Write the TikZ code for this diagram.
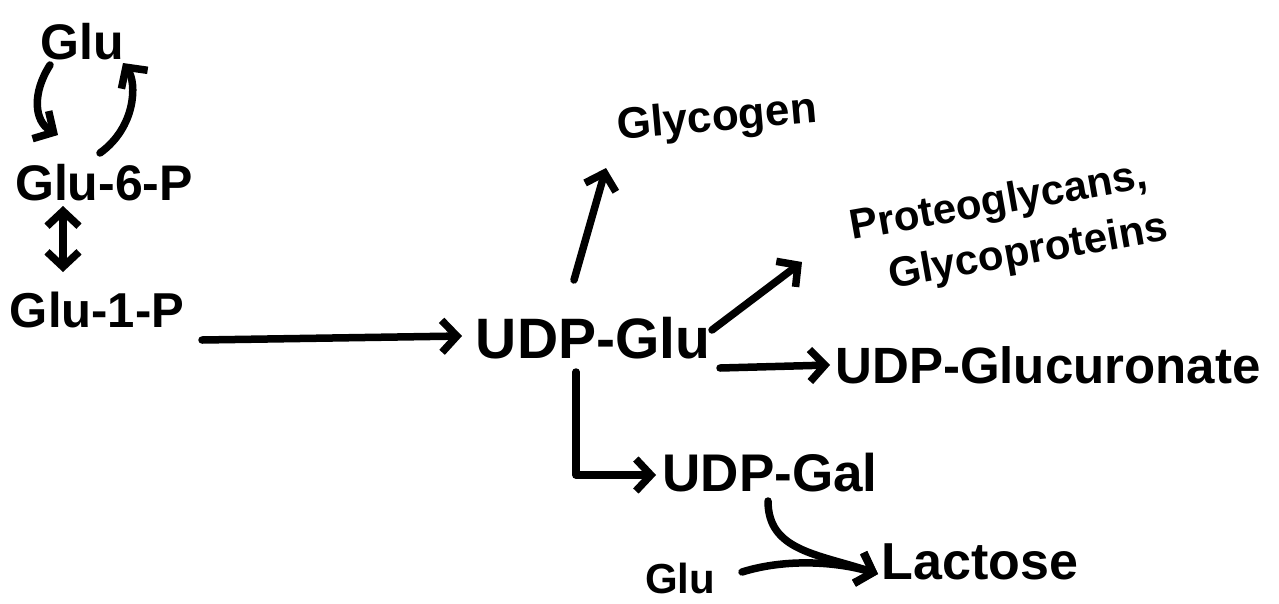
\documentclass[tikz,border=0pt]{standalone}
\usepackage{fontspec}
\setmainfont{Liberation Sans}
\usetikzlibrary{arrows.meta,calc}
\begin{document}
\begin{tikzpicture}[x=1pt,y=-1pt,
  lbl/.style={inner sep=0pt, font=\bfseries\fontsize{#1}{1.3\dimexpr#1pt\relax}\selectfont},
  lbl/.default=48,
  tip/.tip={Straight Barb[length=15pt,width=32pt]},
  flow/.style={line width=7.5pt, line cap=round, line join=round, -tip},
  both/.style={line width=7.5pt, line cap=round, line join=round, tip-tip}]
\fill[white] (0,0) rectangle (1279,603);
\useasboundingbox (0,0) rectangle (1279,603);

% metabolites
\node[lbl=50] (glu)      at (82,42)   {Glu};
\node[lbl=50] (g6p)      at (104,183) {Glu-6-P};
\node[lbl=49] (g1p)      at (97,310)  {Glu-1-P};
\node[lbl=57] (udpglu)   at (593,338) {UDP-Glu};
\node[lbl=44, rotate=5] (glycogen) at (717,120) {Glycogen};
\node[lbl=42, rotate=10, align=center] (pg) at (1004,230) {Proteoglycans,\\\hspace*{40pt}Glycoproteins};
\node[lbl=51] (udpgla)   at (1048,365) {UDP-Glucuronate};
\node[lbl=53] (udpgal)   at (770,473) {UDP-Gal};
\node[lbl=42] (glub)     at (680,578) {Glu};
\node[lbl=52] (lac)      at (980,562) {Lactose};

% glucose / glucose-6-phosphate cycle
\draw[flow] ($(glu.center)+(-32,23)$) .. controls +(-18,28) and +(-24,-14) .. ($(g6p.center)+(-46,-48)$);
\draw[flow] ($(g6p.center)+(-4,-30)$) .. controls +(36,-26) and +(14,20) .. ($(glu.center)+(41,21)$);
\draw[both] ($(g6p.center)+(-41,23)$) -- ($(g1p.center)+(-34,-38)$);

% main route
\draw[flow] ($(g1p.center)+(105,30)$) -- ($(udpglu.center)+(-131,-2)$);
\draw[flow] ($(udpglu.center)+(-19,-58)$) -- ($(glycogen.center)+(-111,48)$);
\draw[flow] ($(udpglu.center)+(119,-8)$) -- ($(pg.center)+(-202,32)$);
\draw[flow] ($(udpglu.center)+(127,30)$) -- ($(udpgla.center)+(-218,0)$);
\draw[flow] ($(udpglu.center)+(-17,34)$) |- ($(udpgal.center)+(-114,2)$);

% lactose synthesis
\draw[flow] ($(udpgal.center)+(-2,28)$) .. controls +(0,50) and +(-60,-20) .. ($(lac.center)+(-102,12)$);
\draw[flow] ($(glub.center)+(62,-6)$) .. controls +(45,-14) and +(-40,-12) .. ($(lac.center)+(-102,12)$);
\end{tikzpicture}
\end{document}
